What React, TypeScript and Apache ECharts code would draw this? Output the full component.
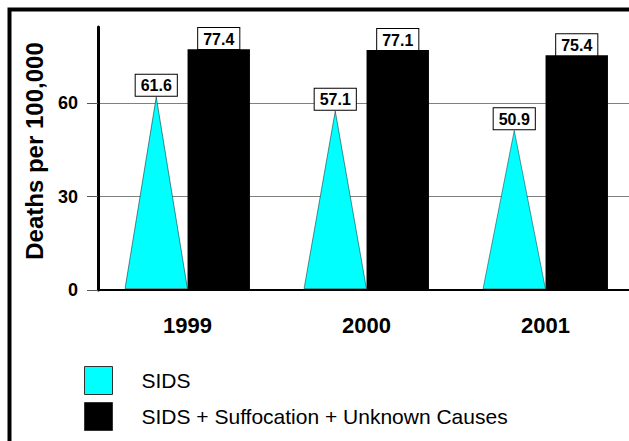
import React, { useEffect, useRef } from "react";
import * as echarts from "echarts";

const categories = ["1999", "2000", "2001"];
const sidsValues = [61.6, 57.1, 50.9];
const totalValues = [77.4, 77.1, 75.4];
const yTicks = [0, 30, 60];
const seriesNames = ["SIDS", "SIDS + Suffocation + Unknown Causes"];

const FONT = "'Liberation Sans', Arial, sans-serif";

export default function App() {
  const ref = useRef<HTMLDivElement>(null);
  useEffect(() => {
    const chart = echarts.init(ref.current!, null, { renderer: "svg" });
    const boxLabel = {
      show: true,
      position: "top",
      distance: 0,
      color: "#000",
      fontFamily: FONT,
      fontWeight: "bold",
      fontSize: 16,
      backgroundColor: "#fff",
      borderColor: "#000",
      borderWidth: 1,
      padding: [3, 5, 2, 5],
    };
    chart.setOption({
      animation: false,
      backgroundColor: "#fff",
      grid: { left: 98, top: 27, bottom: 151, width: 537, containLabel: false, outerBoundsMode: "none" },
      xAxis: {
        type: "category",
        data: categories,
        axisLine: { lineStyle: { color: "#000", width: 2 } },
        axisTick: { alignWithLabel: true, length: 10, lineStyle: { color: "#000", width: 1 } },
        axisLabel: { color: "#000", fontFamily: FONT, fontWeight: "bold", fontSize: 22, margin: 24 },
      },
      yAxis: {
        type: "value",
        min: 0,
        max: 84.5,
        interval: 30,
        axisLine: { show: true, lineStyle: { color: "#000", width: 3 } },
        axisTick: { show: true, length: 11, customValues: yTicks, lineStyle: { color: "#555", width: 1 } },
        axisLabel: { color: "#000", fontFamily: FONT, fontWeight: "bold", fontSize: 18, margin: 20, customValues: yTicks },
        splitLine: { show: true, showMinLine: false, lineStyle: { color: "#808080", width: 1 } },
      },
      legend: {
        orient: "vertical",
        left: 84,
        top: 366,
        padding: 0,
        itemWidth: 28,
        itemHeight: 28,
        itemGap: 7,
        icon: "rect",
        data: seriesNames,
        itemStyle: { borderColor: "#333", borderWidth: 1 },
        textStyle: { color: "#000", fontFamily: FONT, fontSize: 21, padding: [0, 0, 0, 24] },
      },
      graphic: [
        {
          type: "rect",
          shape: { x: 9.5, y: 9.5, width: 700, height: 600 },
          style: { fill: "none", stroke: "#000", lineWidth: 4 },
          silent: true,
        },
        {
          type: "text",
          x: 34,
          y: 151,
          rotation: Math.PI / 2,
          style: {
            text: "Deaths per 100,000",
            fill: "#000",
            font: `bold 24px ${FONT}`,
            textAlign: "center",
            textVerticalAlign: "middle",
          },
        },
      ],
      series: [
        {
          name: seriesNames[0],
          type: "pictorialBar",
          data: sidsValues,
          symbol: "triangle",
          symbolSize: ["100%", "100%"],
          barWidth: 62.5,
          barGap: "0%",
          itemStyle: { color: "#00FFFF", borderColor: "#000", borderWidth: 1.5 },
          label: boxLabel,
          z: 3,
        },
        {
          name: seriesNames[1],
          type: "pictorialBar",
          data: totalValues,
          symbol: "rect",
          symbolSize: ["100%", "100%"],
          barWidth: 62.5,
          barGap: "0%",
          itemStyle: { color: "#000" },
          label: boxLabel,
          z: 3,
        },
      ],
    });
    return () => chart.dispose();
  }, []);
  return (
    <div
      ref={ref}
      style={{ position: "absolute", left: 0, top: 0, width: 629, height: 441 }}
    />
  );
}
